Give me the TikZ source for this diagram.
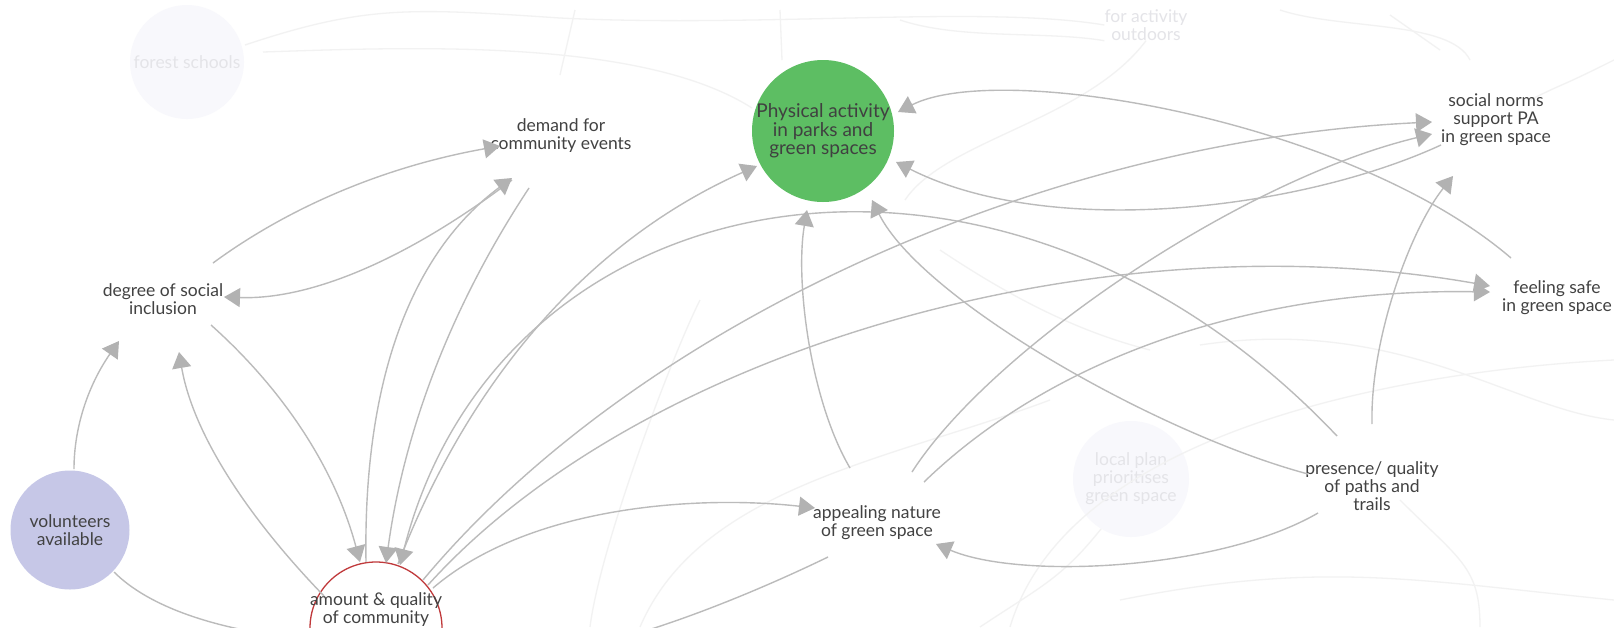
\documentclass[tikz,border=0pt]{standalone}
\usepackage{fontspec}
\setmainfont{Lato}
\usetikzlibrary{arrows.meta,calc}
\definecolor{linkgrey}{HTML}{BBBBBB}
\definecolor{tipgrey}{HTML}{B2B2B2}
\definecolor{pagreen}{HTML}{5DBE63}
\definecolor{volpurple}{HTML}{C6C7E7}
\definecolor{amountred}{HTML}{C0393B}
\definecolor{labelgrey}{HTML}{424242}
\definecolor{fadefill}{HTML}{F8F8FC}
\definecolor{fadetext}{HTML}{E4E4E8}
\definecolor{fadeline}{HTML}{F2F2F2}

\tikzset{
  txt/.style={font=\fontsize{17.5}{18}\selectfont, text=labelgrey, align=center, inner sep=0pt},
  fadetxt/.style={txt, text=fadetext},
  causal/.style={draw=linkgrey, line width=1.4pt, -{Triangle[length=16pt,width=19pt,color=tipgrey]}},
  faintlink/.style={draw=fadeline, line width=1.3pt},
}

\begin{document}
\begin{tikzpicture}[x=1pt,y=-1pt]
\useasboundingbox (0,0) rectangle (1614,627);
\fill[white] (0,0) rectangle (1614,627);
\clip (0,0) rectangle (1614,627);

% faded background factors
\node[circle, fill=fadefill, minimum size=114pt, inner sep=0pt] (forest) at (187,62) {};
\node[fadetxt] at (forest) {forest schools};
\node[fadetxt] (outdoor) at (1146,25) {for activity\\outdoors};
\node[circle, fill=fadefill, minimum size=116pt, inner sep=0pt] (localplan) at (1131,479) {};
\node[fadetxt] at (localplan) {local plan\\prioritises\\green space};

% faded background links
\draw[faintlink] ($(forest)+(58,-17)$) .. controls +(120,-40) and +(-150,-10) .. (560,18);
\draw[faintlink] (560,18) .. controls +(200,10) and +(-120,-20) .. (outdoor.west);
\draw[faintlink] ($(forest)+(76,-10)$) .. controls +(150,-5) and +(-110,-70) .. (752,108);
\draw[faintlink] (575,10) -- (560,75);
\draw[faintlink] (780,10) -- (782,60);
\draw[faintlink] (900,20) .. controls +(60,20) and +(-60,-10) .. (outdoor.south west);
\draw[faintlink] (outdoor.south) .. controls +(-60,80) and +(40,-60) .. (905,200);
\draw[faintlink] (1280,10) .. controls +(60,20) and +(-20,-40) .. (1470,60);
\draw[faintlink] (1390,15) -- (1440,50);
\draw[faintlink] (1614,60) .. controls +(-60,30) and +(40,-20) .. (1530,100);
\draw[faintlink] (1010,627) .. controls +(60,-200) and +(-200,10) .. (1614,360);
\draw[faintlink] (640,627) .. controls +(60,-140) and +(-160,60) .. (1050,400);
\draw[faintlink] ($(localplan)+(-30,50)$) .. controls +(-40,50) and +(60,-40) .. (980,627);
\draw[faintlink] (1120,600) .. controls +(200,-40) and +(-200,-20) .. (1614,600);
\draw[faintlink] (1200,345) .. controls +(200,-30) and +(-100,-10) .. (1614,420);
\draw[faintlink] (1480,627) .. controls +(0,-60) and +(60,60) .. (1400,500);
\draw[faintlink] (940,250) .. controls +(60,40) and +(-80,-20) .. (1150,350);
\draw[faintlink] (590,627) .. controls +(10,-80) and +(-30,60) .. (700,300);

% factors
\node[circle, fill=pagreen, minimum size=142pt, inner sep=0pt] (pa) at (823,131) {};
\node[txt, font=\fontsize{19}{18.5}\selectfont, text=black!75] at (pa) {Physical activity\\in parks and\\green spaces};
\node[txt] (demand) at (561,136) {demand for\\community events};
\node[txt] (degree) at (163,299) {degree of social\\inclusion};
\node[circle, fill=volpurple, minimum size=119pt, inner sep=0pt] (vol) at (70,530) {};
\node[txt] at (vol) {volunteers\\available};
\node[circle, draw=amountred, line width=1.3pt, fill=white, minimum size=132pt, inner sep=0pt] (amount) at (376,628) {};
\node[txt, anchor=north] at (376,592) {amount \& quality\\of community};
\node[txt] (appeal) at (877,523) {appealing nature\\of green space};
\node[txt] (paths) at (1372,486) {presence/ quality\\of paths and\\trails};
\node[txt] (norms) at (1496,120) {social norms\\support PA\\in green space};
\node[txt] (safe) at (1557,298) {feeling safe\\in green space};

% causal links
\draw[causal] ($(degree)+(50,-36)$) .. controls +(79,-58) and +(-112,20) .. ($(demand)+(-61,10)$);
\draw[causal] ($(demand)+(-49,44)$) .. controls +(-107,81) and +(85,3) .. ($(degree)+(61,-2)$);
\draw[causal] ($(amount)+(-10,-66)$) .. controls +(-3,-181) and +(-101,75) .. ($(demand)+(-49,42)$);
\draw[causal] ($(demand)+(-32,52)$) .. controls +(-78,118) and +(18,-132) .. ($(amount)+(10,-65)$);
\draw[causal] ($(degree)+(48,26)$) .. controls +(76,68) and +(-24,-90) .. ($(amount)+(-16,-66)$);
\draw[causal] ($(amount)+(-52,-32)$) .. controls +(-84,-87) and +(13,76) .. ($(degree)+(16,53)$);
\draw[causal] ($(vol)+(4,-61)$) .. controls +(0,-43) and +(-30,43) .. ($(degree)+(-44,42)$);
\draw[causal] ($(vol)+(44,42)$) .. controls +(35,35) and +(-97,-11) .. ($(amount)+(-64,12)$);
\draw[causal] ($(amount)+(22,-64)$) .. controls +(74,-191) and +(-164,73) .. ($(pa)+(-66,35)$);
\draw[causal] ($(paths)+(-35,-50)$) .. controls +(-337,-356) and +(100,-395) .. ($(amount)+(24,-63)$);
\draw[causal] ($(amount)+(47,-48)$) .. controls +(217,-260) and +(-382,18) .. ($(norms)+(-64,2)$);
\draw[causal] ($(amount)+(52,-43)$) .. controls +(212,-235) and +(-391,-69) .. ($(safe)+(-67,-12)$);
\draw[causal] ($(amount)+(57,-40)$) .. controls +(97,-83) and +(-115,-13) .. ($(appeal)+(-62,-15)$);
\draw[causal] ($(appeal)+(-49,34)$) .. controls +(-68,33) and +(118,30) .. ($(amount)+(66,22)$);
\draw[causal] ($(appeal)+(-27,-55)$) .. controls +(-40,-68) and +(-12,70) .. ($(pa)+(-16,79)$);
\draw[causal] ($(paths)+(-64,-12)$) .. controls +(-150,-40) and +(50,100) .. ($(pa)+(49,69)$);
\draw[causal] ($(safe)+(-46,-40)$) .. controls +(-161,-138) and +(102,-52) .. ($(pa)+(75,-19)$);
\draw[causal] ($(norms)+(-55,25)$) .. controls +(-141,65) and +(154,78) .. ($(pa)+(73,31)$);
\draw[causal] ($(appeal)+(35,-51)$) .. controls +(78,-122) and +(-192,46) .. ($(norms)+(-64,14)$);
\draw[causal] ($(appeal)+(47,-41)$) .. controls +(126,-122) and +(-241,-4) .. ($(safe)+(-67,-6)$);
\draw[causal] ($(paths)+(0,-62)$) .. controls +(-2,-84) and +(-43,54) .. ($(norms)+(-43,56)$);
\draw[causal] ($(paths)+(-54,27)$) .. controls +(-98,57) and +(84,36) .. ($(appeal)+(59,21)$);
\end{tikzpicture}
\end{document}
